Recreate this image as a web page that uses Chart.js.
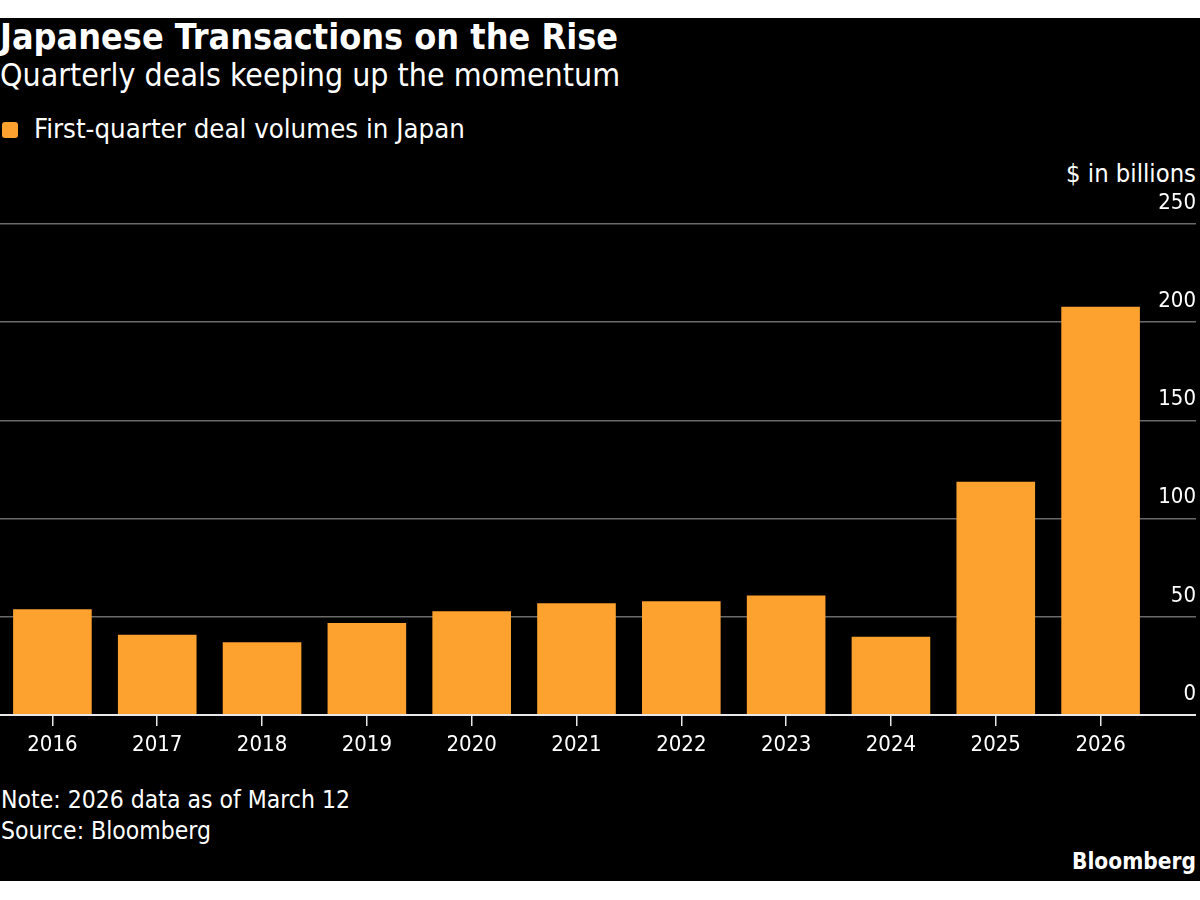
<!DOCTYPE html>
<html>
<head>
<meta charset="utf-8">
<script src="https://cdn.jsdelivr.net/npm/chart.js@4.4.1/dist/chart.umd.min.js"></script>
<style>
  html, body { margin: 0; padding: 0; background: #ffffff; width: 1200px; height: 900px; overflow: hidden; }
  #panel { position: absolute; left: 0; top: 18px; width: 1200px; height: 863px; background: #000000; }
  .t { position: absolute; color: #ffffff; font-family: "DejaVu Sans Condensed", "DejaVu Sans", sans-serif;
       white-space: nowrap; line-height: 1; font-size: 24px; }
  .b { font-weight: bold; }
  #legendBox { position: absolute; left: 2px; top: 122px; width: 16px; height: 16px; border-radius: 3px; background: #FDA12F; }
  #wrap { position: absolute; left: 0; top: 150px; width: 1200px; height: 630px; }
</style>
</head>
<body>
<div id="panel"></div>
<div class="t b" id="title" data-left="0" data-w="618" data-base="49">Japanese Transactions on the Rise</div>
<div class="t" id="subtitle" data-left="0" data-w="620" data-base="87">Quarterly deals keeping up the momentum</div>
<div id="legendBox"></div>
<div class="t" id="legendText" data-left="34" data-w="431" data-base="138.5">First-quarter deal volumes in Japan</div>
<div class="t" id="unit" data-right="1196" data-w="130" data-base="182">$ in billions</div>
<div class="t" id="note" data-left="1" data-w="349" data-base="809">Note: 2026 data as of March 12</div>
<div class="t" id="source" data-left="1" data-w="210" data-base="840">Source: Bloomberg</div>
<div class="t b" id="brand" data-right="1196" data-w="124" data-base="869">Bloomberg</div>
<div id="wrap"><canvas id="c"></canvas></div>
<script>
// ---- data ----
const categories = ["2016","2017","2018","2019","2020","2021","2022","2023","2024","2025","2026"];
const dealVolumes = [53.8, 40.9, 37.0, 46.8, 52.8, 56.9, 57.9, 60.9, 39.9, 118.8, 207.9];
const yTicks = [0, 50, 100, 150, 200, 250];
const seriesName = "First-quarter deal volumes in Japan";

// ---- fit text widths ----
document.querySelectorAll('.t').forEach(el => {
  const w0 = el.getBoundingClientRect().width;
  const target = parseFloat(el.dataset.w);
  const size = 24 * target / w0;
  el.style.fontSize = size.toFixed(2) + 'px';
  const w1 = el.getBoundingClientRect().width;
  if (el.dataset.right) el.style.left = (parseFloat(el.dataset.right) - w1) + 'px';
  else el.style.left = el.dataset.left + 'px';
  el.style.top = (parseFloat(el.dataset.base) - 0.846 * size) + 'px';
});

const FONT = '"DejaVu Sans Condensed", "DejaVu Sans", sans-serif';
const ORANGE = '#FDA12F';

new Chart(document.getElementById('c'), {
  type: 'bar',
  data: {
    labels: categories,
    datasets: [{
      label: seriesName,
      data: dealVolumes,
      backgroundColor: ORANGE,
      borderWidth: 0,
      barPercentage: 0.75,
      categoryPercentage: 1.0
    }]
  },
  options: {
    responsive: true,
    maintainAspectRatio: false,
    animation: false,
    layout: { padding: { top: 74, right: 4, bottom: 0, left: 0 } },
    plugins: { legend: { display: false }, title: { display: false }, tooltip: { enabled: false } },
    scales: {
      x: {
        offset: true,
        grid: { display: true, offset: false, drawOnChartArea: false, drawTicks: true, tickLength: 11, color: '#e8e8e8', lineWidth: 1.5 },
        border: { display: false },
        ticks: { color: '#ffffff', font: { family: FONT, size: 22 }, padding: 6, maxRotation: 0, autoSkip: false },
        afterFit: s => { s.height = 65; }
      },
      y: {
        position: 'right',
        min: 0, max: 250,
        afterBuildTicks: s => { s.ticks = yTicks.map(v => ({ value: v })); },
        grid: {
          drawTicks: true, tickLength: 43,
          color: c => (c.tick && c.tick.value === 0) ? '#e8e8e8' : '#6a6a6a',
          tickColor: c => (c.tick && c.tick.value === 0) ? '#e8e8e8' : '#6a6a6a',
          lineWidth: c => (c.tick && c.tick.value === 0) ? 2 : 1.5
        },
        border: { display: false },
        ticks: { color: '#ffffff', font: { family: FONT, size: 22 }, padding: 0, crossAlign: 'far', labelOffset: -21 },
        afterFit: s => { s.width = 43; }
      }
    }
  }
});
</script>
</body>
</html>
